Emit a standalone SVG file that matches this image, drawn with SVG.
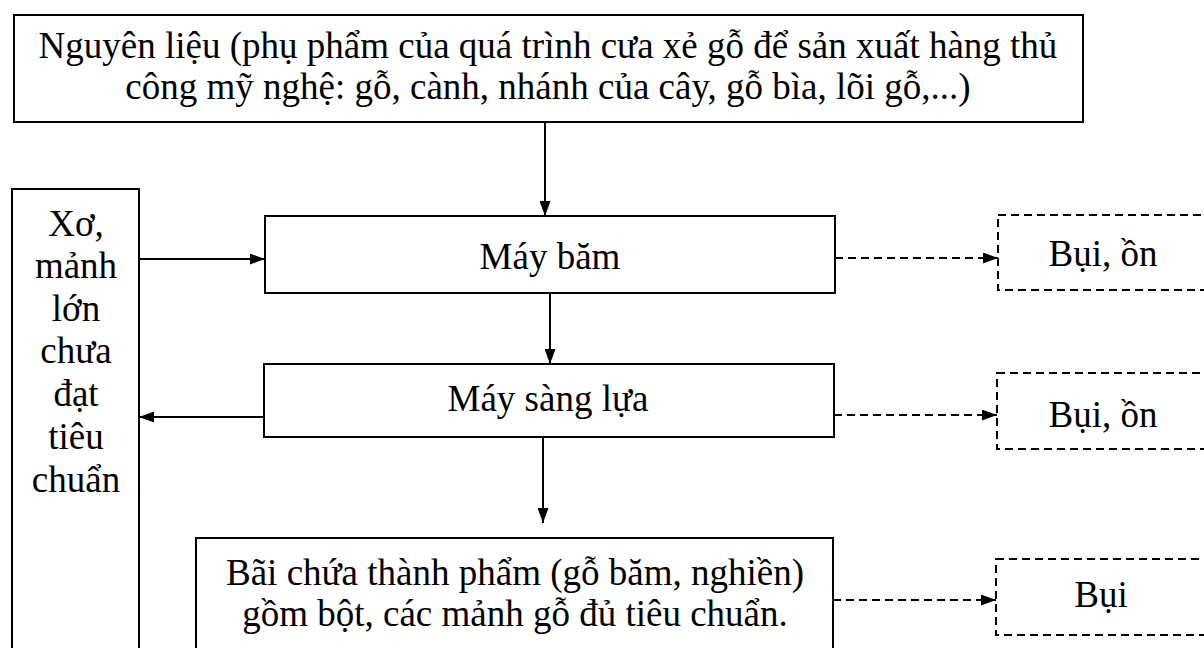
<svg xmlns="http://www.w3.org/2000/svg" width="1204" height="648" viewBox="0 0 1204 648">
<defs>
<style>
.box{fill:#fff;stroke:#000;stroke-width:2}
.dbox{fill:none;stroke:#000;stroke-width:2;stroke-dasharray:8 5}
.t{font-family:"Liberation Serif","Times New Roman",serif;font-size:37px;fill:#000;text-anchor:middle}
.ln{stroke:#000;stroke-width:2;fill:none}
.dl{stroke:#000;stroke-width:2;fill:none;stroke-dasharray:8 5}
</style>
<marker id="ah" viewBox="0 0 15 11" refX="15" refY="5.5" markerWidth="15" markerHeight="11" markerUnits="userSpaceOnUse" orient="auto">
<path d="M0,0 L15,5.5 L0,11 Z" fill="#000"/>
</marker>
</defs>
<rect width="1204" height="648" fill="#fff"/>
<g id="nguyen-lieu">
<rect class="box" x="14" y="15" width="1069" height="107"/>
<text class="t" x="548" y="58">Nguyên liệu (phụ phẩm của quá trình cưa xẻ gỗ để sản xuất hàng thủ</text>
<text class="t" x="548" y="99">công mỹ nghệ: gỗ, cành, nhánh của cây, gỗ bìa, lõi gỗ,...)</text>
</g>
<g id="xo-manh">
<rect class="box" x="12" y="189" width="127" height="470"/>
<text class="t" x="76" y="236">Xơ,</text>
<text class="t" x="76" y="278">mảnh</text>
<text class="t" x="76" y="321">lớn</text>
<text class="t" x="76" y="363">chưa</text>
<text class="t" x="76" y="406">đạt</text>
<text class="t" x="76" y="449">tiêu</text>
<text class="t" x="76" y="492">chuẩn</text>
</g>
<g id="may-bam">
<rect class="box" x="265" y="216" width="570" height="77"/>
<text class="t" x="550" y="269">Máy băm</text>
</g>
<g id="may-sang">
<rect class="box" x="264" y="364" width="570" height="73"/>
<text class="t" x="548" y="411">Máy sàng lựa</text>
</g>
<g id="bai-chua">
<rect class="box" x="196" y="538" width="637" height="130"/>
<text class="t" x="515" y="585">Bãi chứa thành phẩm (gỗ băm, nghiền)</text>
<text class="t" x="515" y="626">gồm bột, các mảnh gỗ đủ tiêu chuẩn.</text>
</g>
<g id="bui-on-1">
<rect class="dbox" x="998" y="215" width="230" height="75"/>
<text class="t" x="1103" y="266">Bụi, ồn</text>
</g>
<g id="bui-on-2">
<rect class="dbox" x="997" y="373" width="230" height="76"/>
<text class="t" x="1103" y="427">Bụi, ồn</text>
</g>
<g id="bui">
<rect class="dbox" x="996" y="559" width="230" height="76"/>
<text class="t" x="1101" y="607">Bụi</text>
</g>
<g id="connectors">
<line class="ln" x1="545" y1="122" x2="545" y2="216" marker-end="url(#ah)"/>
<line class="ln" x1="139" y1="259" x2="265" y2="259" marker-end="url(#ah)"/>
<line class="ln" x1="550" y1="293" x2="550" y2="364" marker-end="url(#ah)"/>
<line class="ln" x1="264" y1="417" x2="139" y2="417" marker-end="url(#ah)"/>
<line class="ln" x1="543" y1="437" x2="543" y2="523" marker-end="url(#ah)"/>
<line class="dl" x1="835" y1="258" x2="998" y2="258" marker-end="url(#ah)"/>
<line class="dl" x1="834" y1="415" x2="997" y2="415" marker-end="url(#ah)"/>
<line class="dl" x1="833" y1="600" x2="996" y2="600" marker-end="url(#ah)"/>
</g>
</svg>
